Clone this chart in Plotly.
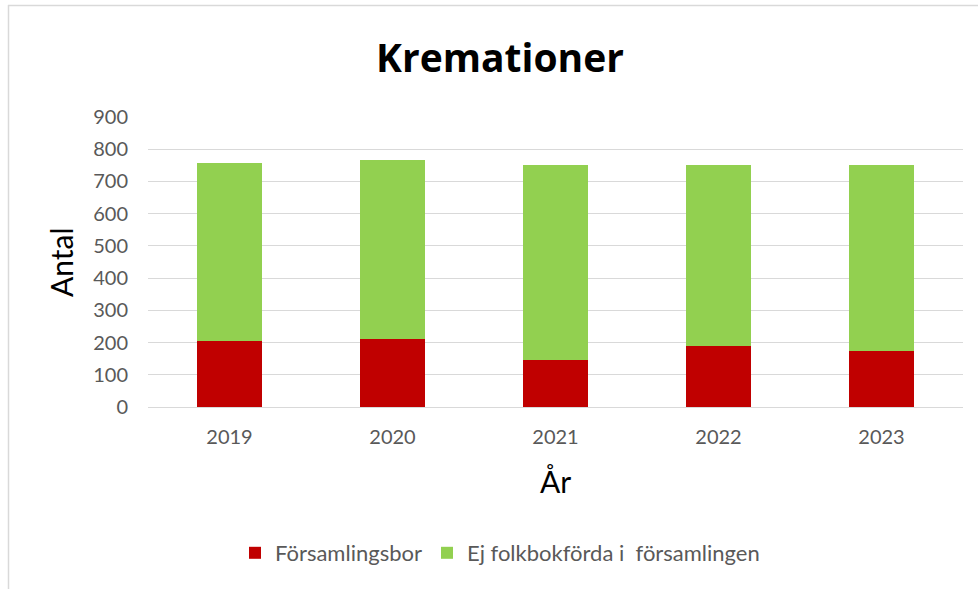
import plotly.graph_objects as go

years = ["2019", "2020", "2021", "2022", "2023"]
forsamlingsbor = [204, 210, 146, 189, 174]
ej_folkbokforda = [554, 558, 604, 563, 576]
y_ticks = [0, 100, 200, 300, 400, 500, 600, 700, 800, 900]

W, H = 978, 589
L, R, T, B = 148, 15, 117, 182
PW, PH = W - L - R, H - T - B


def px(x):
    return (x - L) / PW


def py(y):
    return (H - B - y) / PH


fig = go.Figure()
fig.add_trace(go.Bar(x=years, y=forsamlingsbor, name="Församlingsbor",
                     marker=dict(color="#c00000", line=dict(width=0))))
fig.add_trace(go.Bar(x=years, y=ej_folkbokforda, name="Ej folkbokförda i  församlingen",
                     marker=dict(color="#92d050", line=dict(width=0))))

font = "Lato, 'Open Sans', sans-serif"
fig.update_layout(
    width=W, height=H,
    margin=dict(l=L, r=R, t=T, b=B),
    barmode="stack", bargap=0.6,
    paper_bgcolor="white", plot_bgcolor="white",
    font=dict(family=font, color="#595959", size=20),
    title=dict(text="<b>Kremationer</b>", x=500 / W, xanchor="center", xref="container",
               y=1 - 58 / H, yanchor="middle", yref="container",
               font=dict(family="'Open Sans', sans-serif", size=39, color="black")),
    xaxis=dict(showgrid=False, showline=True, linecolor="#d9d9d9", linewidth=1,
               ticks="", ticklabelstandoff=12, tickfont=dict(size=20, color="#595959")),
    yaxis=dict(range=[0, 900], tickvals=y_ticks, showgrid=True, gridcolor="#d9d9d9",
               gridwidth=1, zeroline=False, ticks="", ticklabelstandoff=19,
               tickfont=dict(size=20, color="#595959")),
    legend=dict(orientation="h", x=px(500), xanchor="center",
                y=py(553), yanchor="middle",
                font=dict(size=22, color="#595959"), traceorder="normal"),
    showlegend=True,
)

fig.add_annotation(text="Antal", xref="paper", yref="paper", x=px(61), y=py(262),
                   textangle=-90, showarrow=False,
                   font=dict(family=font, size=30, color="black"),
                   xanchor="center", yanchor="middle")
fig.add_annotation(text="År", xref="paper", yref="paper", x=px(555), y=py(481),
                   showarrow=False, font=dict(family=font, size=30, color="black"),
                   xanchor="center", yanchor="middle")

fig.add_shape(type="line", xref="paper", yref="paper",
              x0=px(8), x1=px(W), y0=py(5.5), y1=py(5.5),
              line=dict(color="#d9d9d9", width=1.5))
fig.add_shape(type="line", xref="paper", yref="paper",
              x0=px(8.5), x1=px(8.5), y0=py(5), y1=py(H),
              line=dict(color="#d9d9d9", width=1.5))

fig.write_html("out.html", config={"displayModeBar": False},
               post_script="document.body.style.margin='0';")
